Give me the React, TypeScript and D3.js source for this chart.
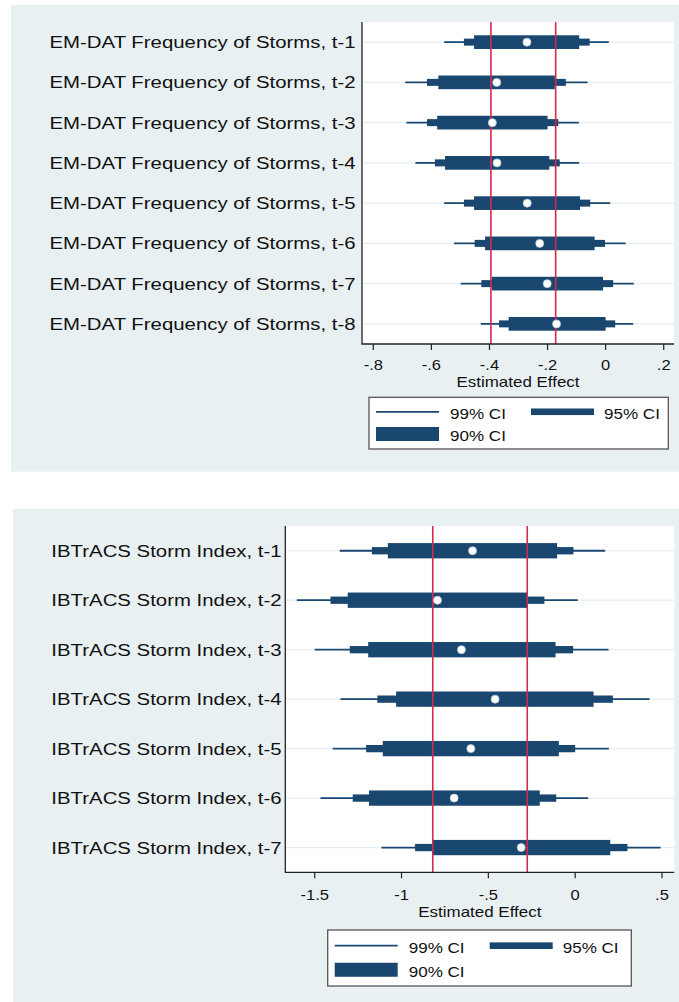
import React from "react";
import * as d3 from "d3";

// top panel: EM-DAT storms
const emdatLabels = [
  "EM-DAT Frequency of Storms, t-1",
  "EM-DAT Frequency of Storms, t-2",
  "EM-DAT Frequency of Storms, t-3",
  "EM-DAT Frequency of Storms, t-4",
  "EM-DAT Frequency of Storms, t-5",
  "EM-DAT Frequency of Storms, t-6",
  "EM-DAT Frequency of Storms, t-7",
  "EM-DAT Frequency of Storms, t-8",
];
const emdatPoint = [-0.271, -0.375, -0.39, -0.374, -0.27, -0.227, -0.201, -0.169];
const emdatLo99 = [-0.556, -0.69, -0.686, -0.655, -0.556, -0.522, -0.499, -0.43];
const emdatHi99 = [0.011, -0.062, -0.092, -0.091, 0.016, 0.069, 0.097, 0.095];
const emdatLo95 = [-0.488, -0.615, -0.615, -0.588, -0.488, -0.451, -0.428, -0.367];
const emdatHi95 = [-0.055, -0.137, -0.163, -0.158, -0.053, -0.002, 0.026, 0.033];
const emdatLo90 = [-0.453, -0.576, -0.58, -0.553, -0.453, -0.415, -0.392, -0.334];
const emdatHi90 = [-0.091, -0.175, -0.2, -0.194, -0.088, -0.038, -0.009, 0.0];
const emdatRefLines = [-0.395, -0.172];
const emdatTicks = [-0.8, -0.6, -0.4, -0.2, 0, 0.2];
const emdatTickLabels = ["-.8", "-.6", "-.4", "-.2", "0", ".2"];

// bottom panel: IBTrACS
const ibtLabels = [
  "IBTrACS Storm Index, t-1",
  "IBTrACS Storm Index, t-2",
  "IBTrACS Storm Index, t-3",
  "IBTrACS Storm Index, t-4",
  "IBTrACS Storm Index, t-5",
  "IBTrACS Storm Index, t-6",
  "IBTrACS Storm Index, t-7",
];
const ibtPoint = [-0.591, -0.793, -0.655, -0.461, -0.601, -0.697, -0.311];
const ibtLo99 = [-1.356, -1.603, -1.5, -1.352, -1.396, -1.467, -1.116];
const ibtHi99 = [0.173, 0.015, 0.192, 0.428, 0.194, 0.075, 0.492];
const ibtLo95 = [-1.171, -1.409, -1.298, -1.139, -1.204, -1.281, -0.922];
const ibtHi95 = [-0.01, -0.177, -0.012, 0.217, 0.0, -0.109, 0.301];
const ibtLo90 = [-1.079, -1.31, -1.192, -1.031, -1.108, -1.187, -0.824];
const ibtHi90 = [-0.104, -0.276, -0.113, 0.106, -0.094, -0.204, 0.202];
const ibtRefLines = [-0.82, -0.276];
const ibtTicks = [-1.5, -1, -0.5, 0, 0.5];
const ibtTickLabels = ["-1.5", "-1", "-.5", "0", ".5"];

const NAVY = "#1a476f";
const RED = "#d42a4e";
const BG = "#e8f0f2";
const GRID = "#e6eef1";
const FONT = "'Liberation Sans', Arial, sans-serif";

// the picture is a bit stretched sideways, so text gets an x scale
const Txt = ({ x, y, size, sx = 1.1, anchor = "start", children }) => (
  <text
    transform={`translate(${x},${y}) scale(${sx},1)`}
    fontSize={size}
    fontFamily={FONT}
    textAnchor={anchor}
    fill="#111"
  >
    {children}
  </text>
);

const Panel = ({ p, d }) => {
  const x = d3.scaleLinear().domain(p.domain).range(p.range);
  const y = d3
    .scaleBand()
    .domain(d.labels.map((_, i) => i))
    .range([p.top, p.bottom]);
  const cy = i => y(i) + y.bandwidth() / 2;
  const lg = p.legend;
  const r1 = lg.y + lg.h * 0.28;
  const r2 = lg.y + lg.h * 0.71;

  return (
    <g>
      <rect x={p.bx} y={p.by} width={p.bw} height={p.bh} fill={BG} />
      <rect x={p.left} y={p.top} width={p.right - p.left} height={p.bottom - p.top} fill="#fff" />
      {d.labels.map((l, i) => (
        <line key={"g" + i} x1={p.left} x2={p.right} y1={cy(i)} y2={cy(i)} stroke={GRID} strokeWidth={1.2} />
      ))}
      {d.labels.map((l, i) => (
        <g key={"r" + i}>
          <line x1={x(d.lo99[i])} x2={x(d.hi99[i])} y1={cy(i)} y2={cy(i)} stroke={NAVY} strokeWidth={1.8} />
          <rect
            x={x(d.lo95[i])}
            width={x(d.hi95[i]) - x(d.lo95[i])}
            y={cy(i) - p.h95 / 2}
            height={p.h95}
            fill={NAVY}
          />
          <rect
            x={x(d.lo90[i])}
            width={x(d.hi90[i]) - x(d.lo90[i])}
            y={cy(i) - p.h90 / 2}
            height={p.h90}
            fill={NAVY}
          />
        </g>
      ))}
      {p.refs.map((v, i) => (
        <line key={"ref" + i} x1={x(v)} x2={x(v)} y1={p.top} y2={p.bottom} stroke={RED} strokeWidth={1.6} />
      ))}
      {d.labels.map((l, i) => (
        <circle key={"c" + i} cx={x(d.point[i])} cy={cy(i)} r={4} fill="#fff" stroke="#b9cbd9" strokeWidth={0.8} />
      ))}
      {d.labels.map((l, i) => (
        <Txt key={"l" + i} x={p.left - p.labelGap} y={cy(i) + 6} size={16.5} sx={1.235} anchor="end">
          {l}
        </Txt>
      ))}
      <line x1={p.left} x2={p.left} y1={p.top} y2={p.bottom + 0.6} stroke="#222" strokeWidth={1.3} />
      <line x1={p.left} x2={p.right} y1={p.bottom} y2={p.bottom} stroke="#222" strokeWidth={1.3} />
      {p.ticks.map((t, i) => (
        <g key={"t" + i}>
          <line x1={x(t)} x2={x(t)} y1={p.bottom} y2={p.bottom + 6} stroke="#222" strokeWidth={1.2} />
          <Txt x={x(t)} y={p.bottom + p.tickDy} size={14} sx={1.18} anchor="middle">
            {p.tickLabels[i]}
          </Txt>
        </g>
      ))}
      <Txt x={(p.left + p.right) / 2} y={p.bottom + p.titleDy} size={15} sx={1.13} anchor="middle">
        Estimated Effect
      </Txt>
      <rect x={lg.x} y={lg.y} width={lg.w} height={lg.h} fill="#fff" stroke="#555" strokeWidth={1.3} />
      <line x1={lg.x + 7} x2={lg.x + 70} y1={r1} y2={r1} stroke={NAVY} strokeWidth={1.8} />
      <Txt x={lg.x + 81} y={r1 + 7} size={15.5}>99% CI</Txt>
      <rect x={lg.x + 162} y={r1 - 3.3} width={63} height={6.6} fill={NAVY} />
      <Txt x={lg.x + 235} y={r1 + 7} size={15.5}>95% CI</Txt>
      <rect x={lg.x + 7} y={r2 - 7} width={63} height={14} fill={NAVY} />
      <Txt x={lg.x + 81} y={r2 + 7} size={15.5}>90% CI</Txt>
    </g>
  );
};

const topPanel = {
  bx: 11, by: 5, bw: 668, bh: 466.7,
  left: 362, right: 674, top: 22, bottom: 344,
  domain: [-0.8, 0.2], range: [373.3, 663.7],
  refs: emdatRefLines, ticks: emdatTicks, tickLabels: emdatTickLabels,
  h90: 13.7, h95: 7, labelGap: 6.5, tickDy: 25.5, titleDy: 42.5,
  legend: { x: 369, y: 397.3, w: 299.3, h: 51.7 },
};
const topData = {
  labels: emdatLabels, point: emdatPoint,
  lo99: emdatLo99, hi99: emdatHi99, lo95: emdatLo95, hi95: emdatHi95, lo90: emdatLo90, hi90: emdatHi90,
};

const bottomPanel = {
  bx: 13, by: 509, bw: 666, bh: 493,
  left: 285.3, right: 674.3, top: 526, bottom: 872.3,
  domain: [-1.5, 0.5], range: [314.7, 662],
  refs: ibtRefLines, ticks: ibtTicks, tickLabels: ibtTickLabels,
  h90: 15.3, h95: 7.3, labelGap: 3.8, tickDy: 27.5, titleDy: 45,
  legend: { x: 327.7, y: 930, w: 303.6, h: 56 },
};
const bottomData = {
  labels: ibtLabels, point: ibtPoint,
  lo99: ibtLo99, hi99: ibtHi99, lo95: ibtLo95, hi95: ibtHi95, lo90: ibtLo90, hi90: ibtHi90,
};

export default function App() {
  return (
    <svg
      width={679}
      height={1002}
      style={{ position: "absolute", left: 0, top: 0, display: "block", background: "#fff" }}
    >
      <Panel p={topPanel} d={topData} />
      <Panel p={bottomPanel} d={bottomData} />
    </svg>
  );
}
